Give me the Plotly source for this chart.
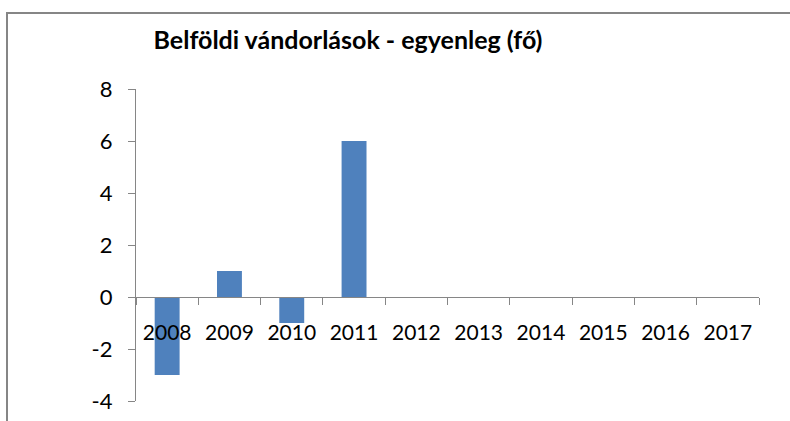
import plotly.graph_objects as go

years = ["2008", "2009", "2010", "2011", "2012", "2013", "2014", "2015", "2016", "2017"]
balance = [-3, 1, -1, 6, 0, 0, 0, 0, 0, 0]
y_tick_values = [-4, -2, 0, 2, 4, 6, 8]
y_tick_labels = ["-4", "-2", "0", "2", "4", "6", "8"]
title_text = "Belföldi vándorlások - egyenleg (fő)"

W, H = 790, 421
L, R, T, B = 136, 31, 89, 20

fig = go.Figure()
fig.add_trace(go.Bar(x=years, y=balance, marker=dict(color="#4F81BD", line=dict(width=0)),
                     hoverinfo="x+y"))

axis_col = "#868686"
font_fam = "Lato, 'Open Sans', sans-serif"

fig.update_layout(
    width=W, height=H,
    margin=dict(l=L, r=R, t=T, b=B, pad=0, autoexpand=False),
    paper_bgcolor="white", plot_bgcolor="rgba(0,0,0,0)",
    bargap=0.6,
    showlegend=False,
    font=dict(family=font_fam, color="black", size=21),
    title=dict(text="<b>" + title_text + "</b>", x=348 / W, xanchor="center",
               y=1 - 40 / H, yanchor="middle", yref="container", xref="container",
               font=dict(family=font_fam, size=25, color="black")),
    xaxis=dict(type="category", anchor="free", position=1 / 3, automargin=False,
               showline=True, linecolor=axis_col, linewidth=1.3,
               ticks="outside", ticklen=7, tickcolor=axis_col, tickwidth=1.3,
               tickson="boundaries", showgrid=False, zeroline=False,
               tickangle=0, ticklabelstandoff=17,
               tickfont=dict(family=font_fam, size=21, color="black")),
    yaxis=dict(range=[-4, 8], tickmode="array", tickvals=y_tick_values, ticktext=y_tick_labels,
               automargin=False,
               showline=True, linecolor=axis_col, linewidth=1.3,
               ticks="outside", ticklen=7, tickcolor=axis_col, tickwidth=1.3,
               showgrid=False, zeroline=False,
               ticklabelstandoff=11,
               tickfont=dict(family=font_fam, size=22, color="black")),
)

pw = W - L - R
ph = H - T - B
fig.add_shape(type="rect", xref="paper", yref="paper",
              x0=(7 - L) / pw, x1=(W + 20 - L) / pw,
              y0=-(B + 20) / ph, y1=(H - B - 13) / ph,
              line=dict(color=axis_col, width=2), fillcolor="rgba(0,0,0,0)", layer="above")

fig.write_html("out.html", config={"displayModeBar": False},
               post_script="document.body.style.margin='0';document.body.style.overflow='hidden';")
